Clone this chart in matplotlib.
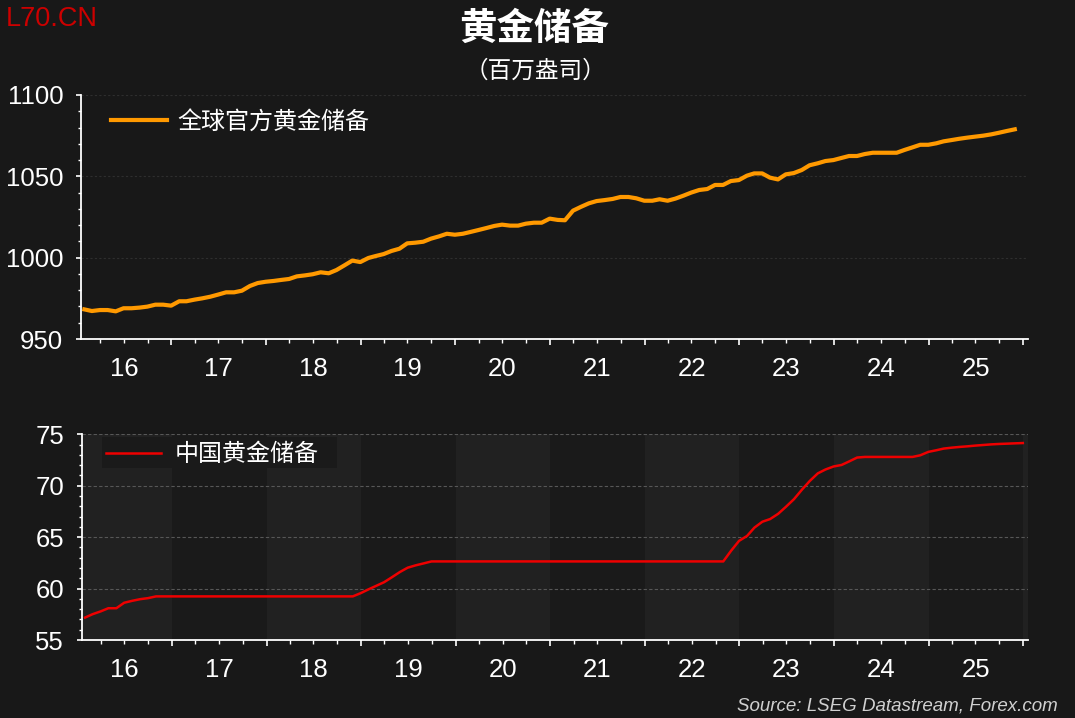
import numpy as np
import pandas as pd
import matplotlib
matplotlib.use("Agg")
import matplotlib.pyplot as plt
import matplotlib.dates as mdates
from matplotlib import ticker
from matplotlib.patches import Rectangle

plt.rcParams['font.family'] = ['Liberation Sans', 'Noto Sans CJK SC', 'DejaVu Sans']

# --- data (million troy ounces, month-end) ---
global_reserves = [
    968.2, 967.2, 967.8, 967.8, 967.0, 968.9, 968.9, 969.3, 969.9, 971.1, 971.1, 970.5,  # 2016
    973.2, 973.2, 974.2, 975.0, 976.0, 977.3, 978.7, 978.7, 979.7, 982.6, 984.4, 985.2,  # 2017
    985.7, 986.3, 986.9, 988.5, 989.1, 989.8, 991.0, 990.4, 992.4, 995.3, 998.2, 997.3,  # 2018
    999.8, 1001.0, 1002.2, 1004.1, 1005.5, 1008.8, 1009.2, 1009.8, 1011.7, 1013.1, 1014.7, 1014.1,  # 2019
    1014.7, 1015.8, 1017.0, 1018.2, 1019.5, 1020.3, 1019.7, 1019.7, 1020.9, 1021.5, 1021.5, 1024.0,  # 2020
    1023.2, 1023.0, 1028.9, 1031.2, 1033.4, 1034.8, 1035.4, 1036.1, 1037.3, 1037.3, 1036.5, 1035.0,  # 2021
    1035.0, 1035.9, 1035.0, 1036.3, 1038.1, 1040.0, 1041.6, 1042.2, 1044.7, 1044.7, 1047.1, 1047.7,  # 2022
    1050.4, 1051.8, 1051.8, 1049.2, 1048.1, 1051.2, 1052.0, 1053.9, 1056.8, 1058.0, 1059.4, 1060.0,  # 2023
    1061.3, 1062.5, 1062.5, 1063.7, 1064.5, 1064.5, 1064.5, 1064.5, 1066.2, 1067.8, 1069.4, 1069.4,  # 2024
    1070.3, 1071.5, 1072.3, 1073.1, 1073.8, 1074.4, 1075.0, 1075.8, 1076.8, 1077.9, 1078.9,  # 2025
]
china_reserves = [
    57.18, 57.51, 57.78, 58.09, 58.09, 58.62, 58.81, 58.97, 59.07, 59.24, 59.24, 59.24,  # 2016
    59.24, 59.24, 59.24, 59.24, 59.24, 59.24, 59.24, 59.24, 59.24, 59.24, 59.24, 59.24,  # 2017
    59.24, 59.24, 59.24, 59.24, 59.24, 59.24, 59.24, 59.24, 59.24, 59.24, 59.24, 59.56,  # 2018
    59.94, 60.26, 60.62, 61.10, 61.61, 62.03, 62.26, 62.45, 62.64, 62.64, 62.64, 62.64,  # 2019
    62.64, 62.64, 62.64, 62.64, 62.64, 62.64, 62.64, 62.64, 62.64, 62.64, 62.64, 62.64,  # 2020
    62.64, 62.64, 62.64, 62.64, 62.64, 62.64, 62.64, 62.64, 62.64, 62.64, 62.64, 62.64,  # 2021
    62.64, 62.64, 62.64, 62.64, 62.64, 62.64, 62.64, 62.64, 62.64, 62.64, 63.67, 64.64,  # 2022
    65.12, 65.92, 66.50, 66.76, 67.27, 67.95, 68.69, 69.62, 70.46, 71.20, 71.58, 71.87,  # 2023
    72.02, 72.36, 72.74, 72.80, 72.80, 72.80, 72.80, 72.80, 72.80, 72.80, 72.96, 73.29,  # 2024
    73.45, 73.61, 73.70, 73.77, 73.83, 73.90, 73.96, 74.02, 74.06, 74.09, 74.12, 74.15,  # 2025
]
years = list(range(2016, 2026))
year_labels = [str(y)[2:] for y in years]

label_global = "全球官方黄金储备"
label_china = "中国黄金储备"

# month-end dates
global_dates = pd.date_range("2016-01-01", periods=len(global_reserves), freq="MS") + pd.offsets.MonthEnd(1)
china_dates = pd.date_range("2016-01-01", periods=len(china_reserves), freq="MS") + pd.offsets.MonthEnd(1)

BG = "#181818"
WHITE = "#ffffff"
x_start, x_end = pd.Timestamp("2016-01-18"), pd.Timestamp("2026-01-20")

fig = plt.figure(figsize=(10.75, 7.18), dpi=100, facecolor=BG)
W, H = 1075, 718


def px_axes(left, top, right, bottom):
    return fig.add_axes([left / W, 1 - bottom / H, (right - left) / W, (bottom - top) / H])


def style_axes(ax):
    ax.set_facecolor(BG)
    for s in ("top", "right"):
        ax.spines[s].set_visible(False)
    for s in ("left", "bottom"):
        ax.spines[s].set_color(WHITE)
        ax.spines[s].set_linewidth(1.3)
    ax.set_xlim(x_start, x_end)
    ax.xaxis.set_major_locator(mdates.YearLocator())
    ax.xaxis.set_minor_locator(mdates.MonthLocator(bymonth=[4, 7, 10]))
    ax.xaxis.set_major_formatter(ticker.NullFormatter())
    ax.tick_params(axis="x", which="major", length=4.5, width=1.2, color=WHITE)
    ax.tick_params(axis="x", which="minor", length=2.6, width=1.0, color=WHITE)
    ax.tick_params(axis="y", which="major", length=3.8, width=1.2, color=WHITE,
                   labelcolor=WHITE, labelsize=18.5, pad=9)
    ax.tick_params(axis="y", which="minor", length=2.2, width=1.0, color=WHITE)
    # year labels sit mid-year, without tick marks
    sec = ax.secondary_xaxis("bottom")
    mids = [mdates.date2num(pd.Timestamp(f"{y}-07-02")) for y in years]
    sec.set_xticks(mids, labels=year_labels)
    sec.tick_params(length=0, pad=13, labelcolor=WHITE, labelsize=18.5)
    sec.spines["bottom"].set_visible(False)


# --- top panel: global official reserves ---
ax1 = px_axes(81, 95, 1028, 339)
style_axes(ax1)
ax1.set_ylim(950, 1100)
ax1.yaxis.set_major_locator(ticker.MultipleLocator(50))
ax1.yaxis.set_minor_locator(ticker.MultipleLocator(10))
ax1.grid(axis="y", which="major", color="#2e2e2e", linestyle=(0, (2, 2)), linewidth=0.8)
ax1.plot(global_dates, global_reserves, color="#ff9900", linewidth=3.0,
         solid_joinstyle="round", label=label_global, zorder=3)
ax1.legend(loc="center left", bbox_to_anchor=(0.032, 0.892), frameon=False,
           borderpad=0, borderaxespad=0, handlelength=2.3, handletextpad=0.45,
           prop={"family": "Noto Sans CJK SC", "size": 17.3}, labelcolor=WHITE)

# --- bottom panel: China reserves ---
ax2 = px_axes(81.7, 434.3, 1028, 640)
style_axes(ax2)
ax2.set_facecolor("#1a1a1a")
for y in years + [2026]:
    if y % 2 == 0:
        ax2.axvspan(pd.Timestamp(f"{y}-01-01"), pd.Timestamp(f"{y + 1}-01-01"),
                    color="#212121", zorder=0, linewidth=0)
ax2.set_ylim(55, 75)
ax2.yaxis.set_major_locator(ticker.MultipleLocator(5))
ax2.yaxis.set_minor_locator(ticker.MultipleLocator(1))
ax2.grid(axis="y", which="major", color="#575757", linestyle=(0, (3, 2)), linewidth=0.8)
ax2.set_axisbelow(True)
# legend background box
ax2.add_patch(Rectangle((0.0211, 0.8347), 0.2483, 0.1536, transform=ax2.transAxes,
                        facecolor="#1a1a1a", edgecolor="none", zorder=1.5))
ax2.plot(china_dates, china_reserves, color="#ee0000", linewidth=1.8, label=label_china, zorder=3)
ax2.legend(loc="center left", bbox_to_anchor=(0.0257, 0.902), frameon=False,
           borderpad=0, borderaxespad=0, handlelength=2.3, handletextpad=0.55,
           prop={"family": "Noto Sans CJK SC", "size": 17.3}, labelcolor=WHITE)

# --- titles and notes ---
fig.text(534 / W, 1 - 28 / H, "黄金储备", ha="center", va="center", color=WHITE,
         fontsize=27, fontweight="bold", family=["Noto Sans CJK SC", "DejaVu Sans"])
fig.text(535 / W, 1 - 71 / H, "（百万盎司）", ha="center", va="center", color=WHITE,
         fontsize=17, family=["Noto Sans CJK SC", "DejaVu Sans"])
fig.text(6 / W, 1 - 18.5 / H, "L70.CN", ha="left", va="center", color="#cc0000", fontsize=19.5)
fig.text(1058 / W, 1 - 706 / H, "Source: LSEG Datastream, Forex.com", ha="right", va="center",
         color="#d0d0d0", fontsize=13.5, style="italic")

fig.savefig("out.png", dpi=100, facecolor=BG)
